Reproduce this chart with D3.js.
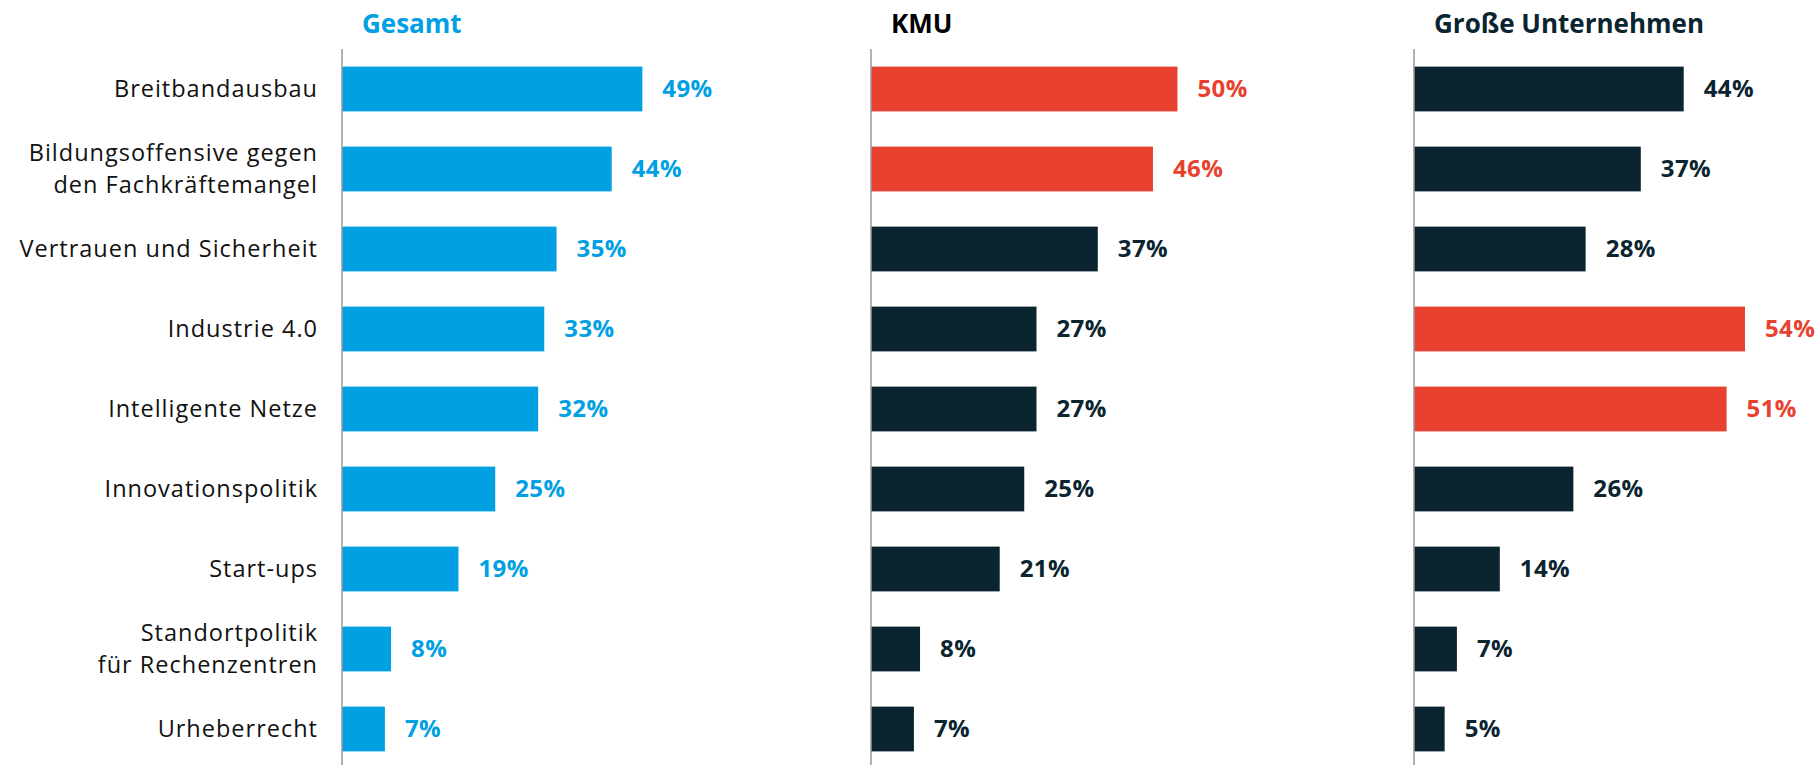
<!DOCTYPE html>
<html lang="de">
<head>
  <meta charset="utf-8">
  <title>Digitalpolitik</title>
  <style>
    body {
      margin: 0;
      background: #fff;
    }

    text {
      font-family: "Open Sans", sans-serif;
    }
  </style>
</head>

<body>
  <script src="https://d3js.org/d3.v7.min.js"></script>
  <svg width="1819" height="765"></svg>
  <script>
    // categories (line breaks with "\n")
    var categories = [
      "Breitbandausbau",
      "Bildungsoffensive gegen\nden Fachkräftemangel",
      "Vertrauen und Sicherheit",
      "Industrie 4.0",
      "Intelligente Netze",
      "Innovationspolitik",
      "Start-ups",
      "Standortpolitik\nfür Rechenzentren",
      "Urheberrecht"
    ];

    var panelTitles = ["Gesamt", "KMU", "Große Unternehmen"];

    var gesamt = [49, 44, 35, 33, 32, 25, 19, 8, 7];
    var kmu = [50, 46, 37, 27, 27, 25, 21, 8, 7];
    var grosse = [44, 37, 28, 54, 51, 26, 14, 7, 5];

    // rows drawn in red
    var kmuHighlight = [0, 1];
    var grosseHighlight = [3, 4];

    var blue = "#00a0e3",
      red = "#e8412f",
      dark = "#0a2530";

    var panels = [
      { title: panelTitles[0], values: gesamt, highlight: [], base: blue, titleColor: blue, axisX: 342 },
      { title: panelTitles[1], values: kmu, highlight: kmuHighlight, base: dark, titleColor: "#000", axisX: 871 },
      { title: panelTitles[2], values: grosse, highlight: grosseHighlight, base: dark, titleColor: dark, axisX: 1414 }
    ];

    const svg = d3.select("svg");
    const height = +svg.attr("height");

    var y = d3.scaleBand()
      .domain(d3.range(categories.length))
      .range([49, 769])
      .paddingInner(0.44)
      .paddingOuter(0.22);

    var x = d3.scaleLinear()
      .domain([0, 54])
      .range([0, 331]);

    // category labels, one text per line
    var lineGap = 32;
    categories.forEach(function (d, i) {
      var lines = d.split("\n");
      lines.forEach(function (line, k) {
        svg.append("text")
          .attr("class", "cat")
          .attr("x", 318)
          .attr("y", y(i) + y.bandwidth() / 2 + (k - (lines.length - 1) / 2) * lineGap)
          .attr("dy", "0.35em")
          .attr("text-anchor", "end")
          .attr("font-size", 23.5)
          .attr("letter-spacing", 1)
          .attr("fill", "#111")
          .text(line);
      });
    });

    panels.forEach(function (p) {
      var g = svg.append("g")
        .attr("transform", "translate(" + p.axisX + ",0)");

      g.append("text")
        .attr("x", 20)
        .attr("y", 33)
        .attr("font-size", 26)
        .attr("font-weight", 700)
        .attr("fill", p.titleColor)
        .text(p.title);

      function color(i) {
        return p.highlight.indexOf(i) >= 0 ? red : p.base;
      }

      g.selectAll(".bar")
        .data(p.values)
        .enter().append("rect")
        .attr("class", "bar")
        .attr("x", 0)
        .attr("y", function (d, i) { return y(i); })
        .attr("width", function (d) { return x(d); })
        .attr("height", y.bandwidth())
        .attr("fill", function (d, i) { return color(i); });

      g.selectAll(".value")
        .data(p.values)
        .enter().append("text")
        .attr("class", "value")
        .attr("x", function (d) { return x(d) + 20; })
        .attr("y", function (d, i) { return y(i) + y.bandwidth() / 2; })
        .attr("dy", "0.35em")
        .attr("font-size", 24)
        .attr("letter-spacing", 0.4)
        .attr("font-weight", 700)
        .attr("fill", function (d, i) { return color(i); })
        .text(function (d) { return d + "%"; });

      g.append("line")
        .attr("x1", 0)
        .attr("x2", 0)
        .attr("y1", 49)
        .attr("y2", height)
        .attr("stroke", "#999")
        .attr("stroke-width", 1.5);
    });
  </script>
</body>

</html>
